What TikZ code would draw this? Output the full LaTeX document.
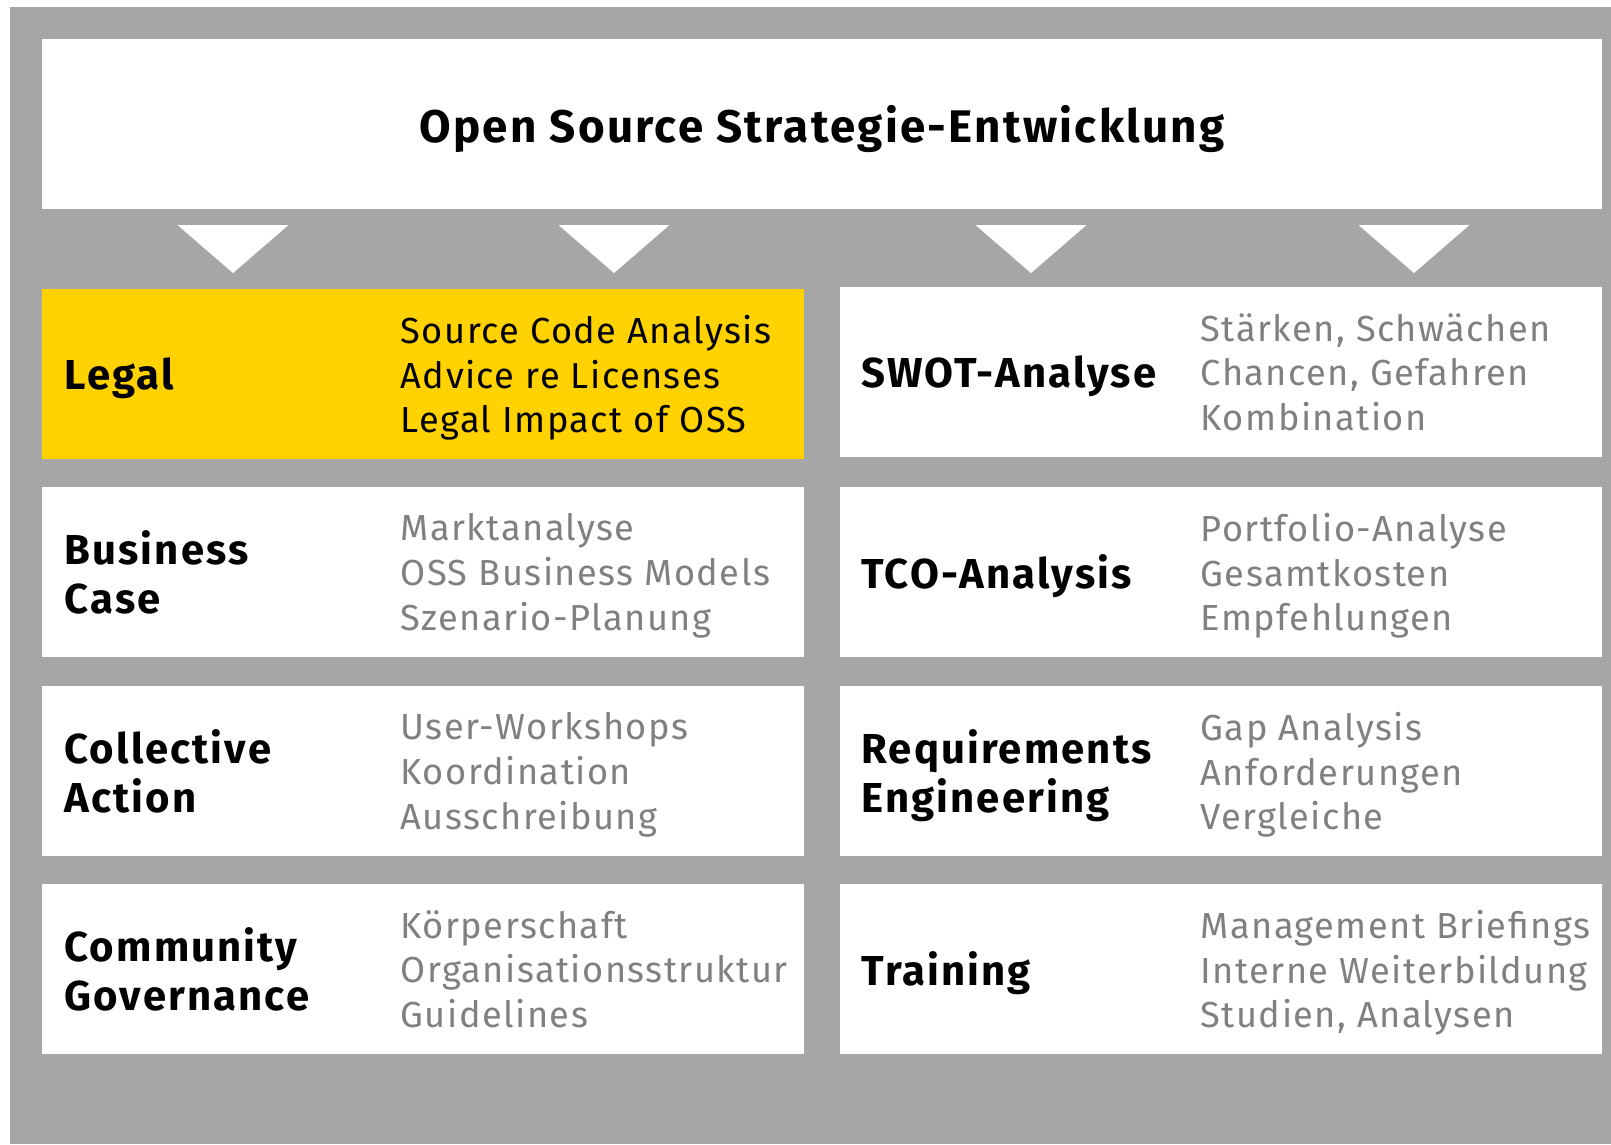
\documentclass[tikz,border=0pt]{standalone}
\usepackage{fontspec}
\setmainfont{Fira Sans}[LetterSpace=4]
\definecolor{oss@gray}{RGB}{166,166,166}
\definecolor{oss@text}{RGB}{128,128,128}
\definecolor{oss@yellow}{RGB}{255,210,0}
\tikzset{
  headtxt/.style={anchor=west, align=left, text=black, inner sep=0pt,
    text depth=0pt,
    font=\bfseries\fontsize{11.9}{14.2}\selectfont\addfontfeature{LetterSpace=5}},
  itemtxt/.style={anchor=west, align=left, text=oss@text, inner sep=0pt,
    text depth=0pt, font=\fontsize{10.3}{12.7}\selectfont},
}

\begin{document}
\begin{tikzpicture}[x=0.01cm,y=-0.01cm]

\useasboundingbox (0,0) rectangle (1611,1144);
\fill[oss@gray] (10,7) rectangle (1611,1144);

% Title
\fill[white] (42,39) rectangle ++(1560,170)
  node[pos=.5,align=center,text=black,inner sep=0pt,text depth=0pt,
    font=\bfseries\fontsize{13}{15}\selectfont\addfontfeature{LetterSpace=5}] (title)
  {Open Source Strategie-Entwicklung};

% Arrows
\foreach \cx in {233,614,1031,1414}
  \fill[white] (\cx-55.5,225) -- (\cx+55.5,225) -- (\cx,273) -- cycle;

\begin{scope}[shift={(42,0)}]

  % Legal
  \fill[oss@yellow] (0,289) rectangle ++(762,170) node[pos=.5] (legal) {};
  \node[headtxt] (legal-head) at (22,374) {Legal};
  \node[itemtxt,text=black] (legal-items) at (358,374)
    {Source Code Analysis\\Advice re Licenses\\Legal Impact of OSS};

  % Business Case
  \fill[white] (0,487) rectangle ++(762,170) node[pos=.5] (business) {};
  \node[headtxt] (business-head) at (22,572) {Business\\Case};
  \node[itemtxt] (business-items) at (358,572)
    {Marktanalyse\\OSS Business Models\\Szenario-Planung};

  % Collective Action
  \fill[white] (0,686) rectangle ++(762,170) node[pos=.5] (collective) {};
  \node[headtxt] (collective-head) at (22,771) {Collective\\Action};
  \node[itemtxt] (collective-items) at (358,771)
    {User-Workshops\\Koordination\\Ausschreibung};

  % Community Governance
  \fill[white] (0,884) rectangle ++(762,170) node[pos=.5] (community) {};
  \node[headtxt] (community-head) at (22,969) {Community\\Governance};
  \node[itemtxt] (community-items) at (358,969)
    {Körperschaft\\Organisationsstruktur\\Guidelines};

\end{scope}

\begin{scope}[shift={(840,0)}]

  % SWOT
  \fill[white] (0,287) rectangle ++(762,170) node[pos=.5] (swot) {};
  \node[headtxt] (swot-head) at (21,372) {SWOT-Analyse};
  \node[itemtxt] (swot-items) at (360,372)
    {Stärken, Schwächen\\Chancen, Gefahren\\Kombination};

  % TCO
  \fill[white] (0,487) rectangle ++(762,170) node[pos=.5] (tco) {};
  \node[headtxt] (tco-head) at (21,572) {TCO-Analysis};
  \node[itemtxt] (tco-items) at (360,572)
    {Portfolio-Analyse\\Gesamtkosten\\Empfehlungen};

  % Requirements Engineering
  \fill[white] (0,686) rectangle ++(762,170) node[pos=.5] (requirements) {};
  \node[headtxt] (requirements-head) at (21,771) {Requirements\\Engineering};
  \node[itemtxt] (requirements-items) at (360,771)
    {Gap Analysis\\Anforderungen\\Vergleiche};

  % Training
  \fill[white] (0,884) rectangle ++(762,170) node[pos=.5] (training) {};
  \node[headtxt] (training-head) at (21,969) {Training};
  \node[itemtxt] (training-items) at (360,969)
    {Management Briefings\\Interne Weiterbildung\\Studien, Analysen};

\end{scope}

\end{tikzpicture}
\end{document}
